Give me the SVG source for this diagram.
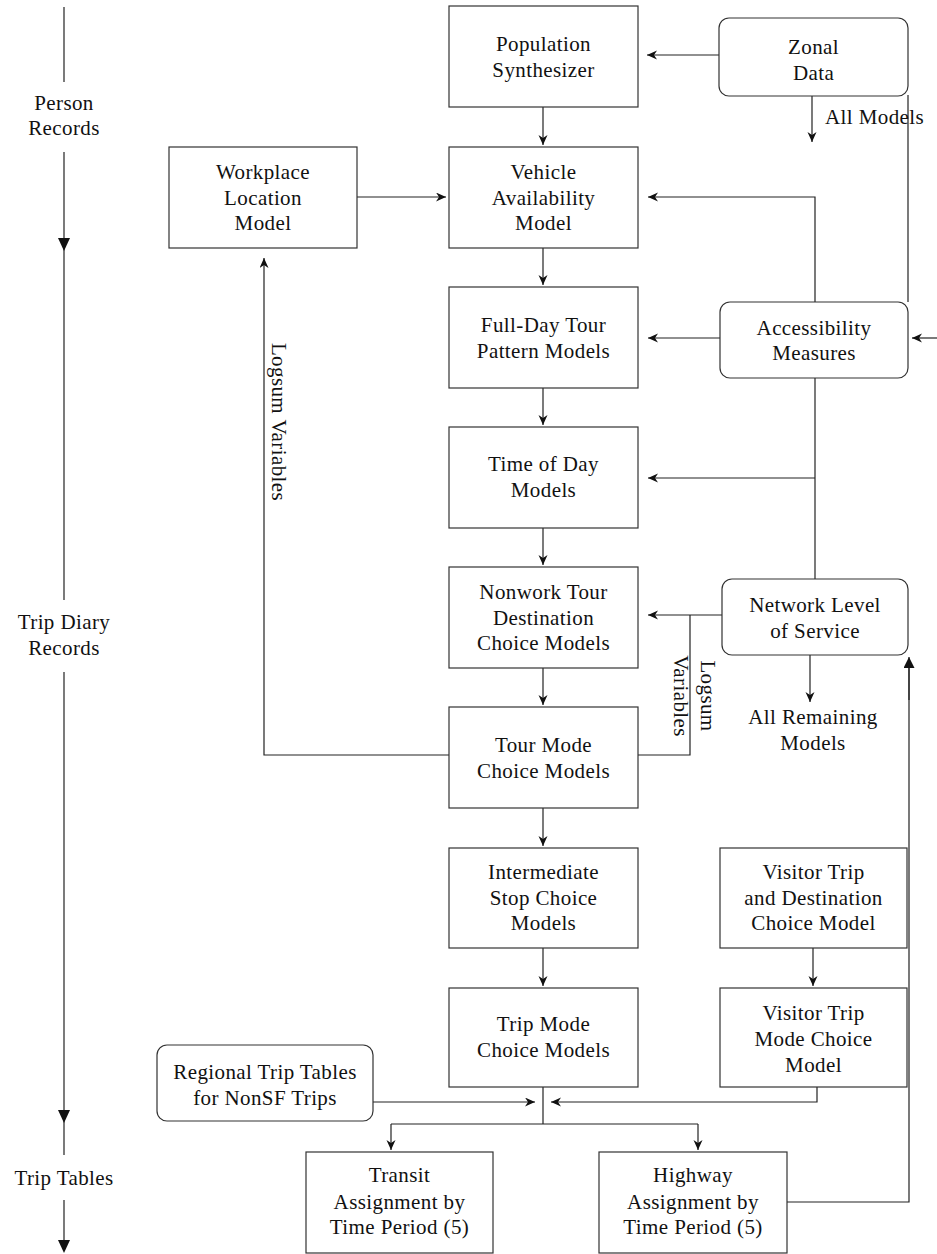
<svg xmlns="http://www.w3.org/2000/svg" width="937" height="1254" viewBox="0 0 937 1254">
<defs>
<style>
.box{fill:#fff;stroke:#333;stroke-width:1.2}
.ln{fill:none;stroke:#222;stroke-width:1.2}
.arr{marker-end:url(#ah)}
text{font-family:"Liberation Serif","DejaVu Serif",serif;font-size:21px;fill:#111;letter-spacing:0.4px}
.c{text-anchor:middle}
.tri{fill:#111}
</style>
<marker id="ah" markerUnits="userSpaceOnUse" markerWidth="12" markerHeight="10" refX="10" refY="4.5" orient="auto">
<path d="M0,0 L10,4.5 L0,9 L3,4.5 Z" fill="#111"/>
</marker>
<marker id="tri" markerUnits="userSpaceOnUse" markerWidth="12" markerHeight="12" refX="11" refY="5.5" orient="auto">
<path d="M0,0 L11,5.5 L0,11 Z" fill="#111"/>
</marker>
</defs>
<rect width="937" height="1254" fill="#fff"/>

<g id="axis">
<line class="ln" x1="64" y1="7" x2="64" y2="82"/>
<line class="ln" x1="64" y1="152" x2="64" y2="600"/>
<polygon class="tri" points="58,238 70,238 64,251"/>
<line class="ln" x1="64" y1="672" x2="64" y2="1155"/>
<polygon class="tri" points="58,1110 70,1110 64,1123"/>
<line class="ln" x1="64" y1="1200" x2="64" y2="1250"/>
<polygon class="tri" points="58,1240 70,1240 64,1253"/>
<text class="c" x="64" y="110">Person</text>
<text class="c" x="64" y="135">Records</text>
<text class="c" x="64" y="629">Trip Diary</text>
<text class="c" x="64" y="655">Records</text>
<text class="c" x="64" y="1185">Trip Tables</text>
</g>

<g id="connectors">
<line class="ln arr" x1="719" y1="55" x2="647" y2="55"/>
<line class="ln arr" x1="812" y1="96" x2="812" y2="142"/>
<line class="ln" x1="908" y1="95" x2="908" y2="302"/>
<line class="ln arr" x1="937" y1="338" x2="912" y2="338"/>
<line class="ln arr" x1="543" y1="107" x2="543" y2="145"/>
<line class="ln arr" x1="357" y1="197" x2="446" y2="197"/>
<polyline class="ln arr" points="815,302 815,197 648,197"/>
<line class="ln arr" x1="543" y1="248" x2="543" y2="285"/>
<line class="ln arr" x1="720" y1="338" x2="648" y2="338"/>
<line class="ln arr" x1="543" y1="388" x2="543" y2="425"/>
<line class="ln" x1="815" y1="378" x2="815" y2="579"/>
<line class="ln arr" x1="815" y1="478" x2="648" y2="478"/>
<line class="ln arr" x1="543" y1="528" x2="543" y2="565"/>
<line class="ln arr" x1="722" y1="615" x2="648" y2="615"/>
<polyline class="ln" points="638,755 690,755 690,615"/>
<line class="ln arr" x1="810" y1="655" x2="810" y2="702"/>
<line class="ln arr" x1="543" y1="668" x2="543" y2="705"/>
<polyline class="ln arr" points="449,755 264,755 264,258"/>
<line class="ln arr" x1="543" y1="808" x2="543" y2="846"/>
<line class="ln arr" x1="543" y1="948" x2="543" y2="986"/>
<line class="ln arr" x1="813" y1="948" x2="813" y2="986"/>
<line class="ln" x1="543" y1="1087" x2="543" y2="1124"/>
<line class="ln" x1="391" y1="1124" x2="698" y2="1124"/>
<line class="ln arr" x1="391" y1="1124" x2="391" y2="1150"/>
<line class="ln arr" x1="698" y1="1124" x2="698" y2="1150"/>
<line class="ln arr" x1="373" y1="1102" x2="535" y2="1102"/>
<polyline class="ln arr" points="817,1087 817,1102 551,1102"/>
<polyline class="ln" points="787,1202 909,1202 909,666"/>
<line class="ln" x1="909" y1="700" x2="909" y2="657" marker-end="url(#tri)"/>
<text x="825" y="124">All Models</text>
<text class="c" x="813" y="724">All Remaining</text>
<text class="c" x="813" y="750">Models</text>
<text class="c" transform="translate(272,422) rotate(90)" x="0" y="0">Logsum Variables</text>
<text class="c" transform="translate(701,696) rotate(90)" x="0" y="0">Logsum</text>
<text class="c" transform="translate(674,696) rotate(90)" x="0" y="0">Variables</text>
</g>

<g id="pop">
<rect class="box" x="449" y="6" width="189" height="101"/>
<text class="c" x="543.5" y="51">Population</text>
<text class="c" x="543.5" y="77">Synthesizer</text>
</g>
<g id="zonal">
<rect class="box" x="719" y="18" width="189" height="78" rx="10"/>
<text class="c" x="813.5" y="54">Zonal</text>
<text class="c" x="813.5" y="80">Data</text>
</g>
<g id="workplace">
<rect class="box" x="169" y="147" width="188" height="101"/>
<text class="c" x="263" y="179">Workplace</text>
<text class="c" x="263" y="205">Location</text>
<text class="c" x="263" y="230">Model</text>
</g>
<g id="vehicle">
<rect class="box" x="449" y="147" width="189" height="101"/>
<text class="c" x="543.5" y="179">Vehicle</text>
<text class="c" x="543.5" y="205">Availability</text>
<text class="c" x="543.5" y="230">Model</text>
</g>
<g id="fullday">
<rect class="box" x="449" y="287" width="189" height="101"/>
<text class="c" x="543.5" y="332">Full-Day Tour</text>
<text class="c" x="543.5" y="358">Pattern Models</text>
</g>
<g id="access">
<rect class="box" x="720" y="302" width="188" height="76" rx="10"/>
<text class="c" x="814" y="335">Accessibility</text>
<text class="c" x="814" y="360">Measures</text>
</g>
<g id="timeofday">
<rect class="box" x="449" y="427" width="189" height="101"/>
<text class="c" x="543.5" y="471">Time of Day</text>
<text class="c" x="543.5" y="497">Models</text>
</g>
<g id="nonwork">
<rect class="box" x="449" y="567" width="189" height="101"/>
<text class="c" x="543.5" y="599">Nonwork Tour</text>
<text class="c" x="543.5" y="625">Destination</text>
<text class="c" x="543.5" y="650">Choice Models</text>
</g>
<g id="network">
<rect class="box" x="722" y="579" width="186" height="76" rx="10"/>
<text class="c" x="815" y="612">Network Level</text>
<text class="c" x="815" y="638">of Service</text>
</g>
<g id="tourmode">
<rect class="box" x="449" y="707" width="189" height="101"/>
<text class="c" x="543.5" y="752">Tour Mode</text>
<text class="c" x="543.5" y="778">Choice Models</text>
</g>
<g id="intermediate">
<rect class="box" x="449" y="848" width="189" height="100"/>
<text class="c" x="543.5" y="879">Intermediate</text>
<text class="c" x="543.5" y="905">Stop Choice</text>
<text class="c" x="543.5" y="930">Models</text>
</g>
<g id="visitor1">
<rect class="box" x="720" y="848" width="187" height="100"/>
<text class="c" x="813.5" y="879">Visitor Trip</text>
<text class="c" x="813.5" y="905">and Destination</text>
<text class="c" x="813.5" y="930">Choice Model</text>
</g>
<g id="tripmode">
<rect class="box" x="449" y="988" width="189" height="99"/>
<text class="c" x="543.5" y="1031">Trip Mode</text>
<text class="c" x="543.5" y="1057">Choice Models</text>
</g>
<g id="visitor2">
<rect class="box" x="720" y="988" width="187" height="99"/>
<text class="c" x="813.5" y="1020">Visitor Trip</text>
<text class="c" x="813.5" y="1046">Mode Choice</text>
<text class="c" x="813.5" y="1072">Model</text>
</g>
<g id="regional">
<rect class="box" x="157" y="1045" width="216" height="76" rx="10"/>
<text class="c" x="265" y="1079">Regional Trip Tables</text>
<text class="c" x="265" y="1105">for NonSF Trips</text>
</g>
<g id="transit">
<rect class="box" x="306" y="1152" width="187" height="101"/>
<text class="c" x="399.5" y="1182">Transit</text>
<text class="c" x="399.5" y="1209">Assignment by</text>
<text class="c" x="399.5" y="1234">Time Period (5)</text>
</g>
<g id="highway">
<rect class="box" x="599" y="1152" width="188" height="101"/>
<text class="c" x="693" y="1182">Highway</text>
<text class="c" x="693" y="1209">Assignment by</text>
<text class="c" x="693" y="1234">Time Period (5)</text>
</g>
</svg>
